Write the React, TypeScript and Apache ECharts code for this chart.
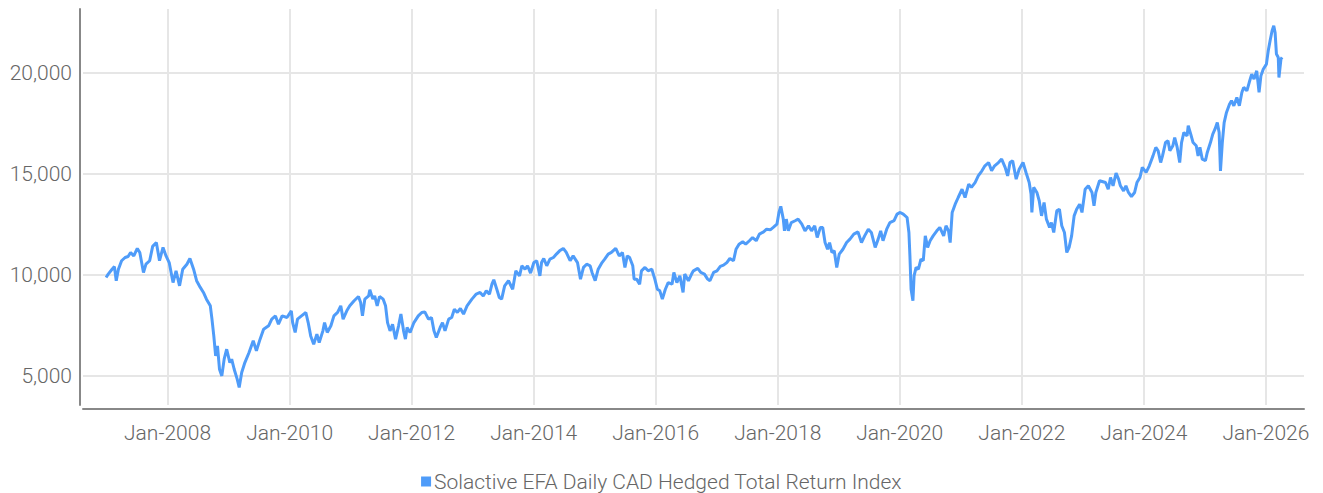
import React, { useEffect, useRef } from "react";
import * as echarts from "echarts";

const SERIES_NAME = "Solactive EFA Daily CAD Hedged Total Return Index";

const dates: string[] = [
  "2006-12-29","2007-01-11","2007-02-03","2007-02-17","2007-02-28","2007-03-13","2007-04-01","2007-04-22","2007-05-10","2007-05-25",
  "2007-06-13","2007-07-04","2007-07-19","2007-08-10","2007-08-25","2007-09-16","2007-10-04","2007-10-26","2007-11-14","2007-12-05",
  "2007-12-23","2008-01-11","2008-02-03","2008-02-21","2008-03-13","2008-04-01","2008-04-26","2008-05-14","2008-06-05","2008-06-23",
  "2008-07-15","2008-08-03","2008-08-21","2008-09-13","2008-09-23","2008-10-04","2008-10-15","2008-10-26","2008-11-07","2008-11-21",
  "2008-12-05","2008-12-20","2009-01-08","2009-01-19","2009-02-03","2009-02-21","2009-03-05","2009-03-20","2009-04-08","2009-05-03",
  "2009-05-28","2009-06-16","2009-07-08","2009-07-29","2009-08-28","2009-09-16","2009-10-08","2009-10-26","2009-11-17","2009-12-16",
  "2010-01-11","2010-01-19","2010-02-03","2010-02-17","2010-03-13","2010-04-08","2010-04-22","2010-05-07","2010-05-25","2010-06-13",
  "2010-06-27","2010-07-19","2010-07-29","2010-08-14","2010-09-05","2010-09-23","2010-10-15","2010-11-03","2010-11-17","2010-12-09",
  "2010-12-27","2011-01-22","2011-02-17","2011-03-02","2011-03-13","2011-03-27","2011-04-19","2011-04-26","2011-05-14","2011-05-25",
  "2011-06-09","2011-06-23","2011-07-15","2011-07-29","2011-08-10","2011-08-25","2011-09-09","2011-09-27","2011-10-15","2011-10-29",
  "2011-11-14","2011-11-25","2011-12-05","2011-12-23","2012-01-15","2012-02-10","2012-03-02","2012-03-20","2012-04-11","2012-04-29",
  "2012-05-14","2012-05-28","2012-06-20","2012-07-04","2012-07-19","2012-08-10","2012-08-28","2012-09-13","2012-10-01","2012-10-19",
  "2012-11-07","2012-11-28","2012-12-27","2013-01-22","2013-02-14","2013-03-05","2013-03-23","2013-04-11","2013-04-26","2013-05-07",
  "2013-05-25","2013-06-09","2013-06-23","2013-07-11","2013-08-03","2013-08-28","2013-09-16","2013-10-08","2013-10-22","2013-11-10",
  "2013-11-25","2013-12-13","2014-01-02","2014-01-19","2014-02-07","2014-02-17","2014-03-02","2014-03-20","2014-04-08","2014-04-29",
  "2014-05-17","2014-06-05","2014-06-27","2014-07-15","2014-08-07","2014-08-25","2014-09-20","2014-10-08","2014-10-26","2014-11-14",
  "2014-12-05","2014-12-16","2015-01-04","2015-01-22","2015-02-14","2015-03-02","2015-03-23","2015-04-11","2015-05-07","2015-05-28",
  "2015-06-16","2015-07-01","2015-07-15","2015-07-29","2015-08-17","2015-08-25","2015-09-09","2015-09-27","2015-10-08","2015-10-29",
  "2015-11-17","2015-12-09","2015-12-27","2016-01-11","2016-01-26","2016-02-10","2016-02-28","2016-03-16","2016-04-08","2016-04-19",
  "2016-05-07","2016-05-25","2016-06-13","2016-06-23","2016-07-15","2016-08-03","2016-08-14","2016-09-09","2016-09-27","2016-10-19",
  "2016-11-07","2016-11-21","2016-12-13","2017-01-02","2017-01-22","2017-02-10","2017-03-02","2017-03-20","2017-04-11","2017-04-26",
  "2017-05-14","2017-06-05","2017-06-23","2017-07-15","2017-08-03","2017-08-25","2017-09-13","2017-10-08","2017-10-26","2017-11-17",
  "2017-12-05","2017-12-27","2018-01-08","2018-01-19","2018-02-03","2018-02-10","2018-02-21","2018-03-05","2018-03-23","2018-04-15",
  "2018-05-03","2018-05-25","2018-06-13","2018-07-04","2018-07-22","2018-08-10","2018-08-25","2018-09-13","2018-09-27","2018-10-11",
  "2018-10-26","2018-11-07","2018-11-21","2018-12-05","2018-12-20","2019-01-04","2019-01-26","2019-02-17","2019-03-09","2019-04-01",
  "2019-04-26","2019-05-17","2019-06-05","2019-06-27","2019-07-15","2019-08-07","2019-08-25","2019-09-09","2019-09-23","2019-10-15",
  "2019-11-03","2019-11-28","2019-12-16","2020-01-04","2020-01-22","2020-02-14","2020-02-25","2020-03-02","2020-03-09","2020-03-20",
  "2020-03-27","2020-04-08","2020-04-22","2020-05-07","2020-05-21","2020-06-02","2020-06-16","2020-07-01","2020-07-19","2020-08-10",
  "2020-08-28","2020-09-20","2020-10-04","2020-10-19","2020-10-29","2020-11-10","2020-11-28","2020-12-16","2021-01-08","2021-01-26",
  "2021-02-17","2021-03-05","2021-03-27","2021-04-15","2021-05-07","2021-05-25","2021-06-16","2021-07-04","2021-07-22","2021-08-14",
  "2021-09-02","2021-09-23","2021-10-08","2021-10-22","2021-11-07","2021-11-28","2021-12-16","2022-01-08","2022-01-26","2022-02-14",
  "2022-02-25","2022-03-02","2022-03-13","2022-04-01","2022-04-15","2022-04-29","2022-05-14","2022-05-28","2022-06-16","2022-06-27",
  "2022-07-11","2022-07-29","2022-08-14","2022-08-28","2022-09-13","2022-09-27","2022-10-11","2022-10-26","2022-11-10","2022-11-25",
  "2022-12-13","2022-12-27","2023-01-15","2023-02-03","2023-02-25","2023-03-09","2023-03-20","2023-04-11","2023-05-17","2023-06-02",
  "2023-06-16","2023-07-01","2023-07-19","2023-08-03","2023-08-14","2023-09-02","2023-09-16","2023-10-01","2023-10-19","2023-11-07",
  "2023-11-21","2023-12-09","2023-12-23","2024-01-15","2024-02-03","2024-02-25","2024-03-13","2024-03-27","2024-04-11","2024-04-22",
  "2024-05-10","2024-05-25","2024-06-05","2024-06-23","2024-07-04","2024-07-19","2024-08-03","2024-08-14","2024-08-28","2024-09-16",
  "2024-09-23","2024-10-08","2024-10-22","2024-11-10","2024-11-21","2024-12-02","2024-12-16","2025-01-04","2025-01-15","2025-02-03",
  "2025-02-17","2025-03-02","2025-03-16","2025-03-27","2025-04-04","2025-04-15","2025-04-26","2025-05-10","2025-05-28","2025-06-09",
  "2025-06-23","2025-07-11","2025-07-26","2025-08-10","2025-08-21","2025-09-09","2025-09-23","2025-10-08","2025-10-22","2025-11-07",
  "2025-11-21","2025-12-02","2025-12-16","2026-01-04","2026-01-15","2026-01-26","2026-02-07","2026-02-17","2026-02-25","2026-03-05",
  "2026-03-16","2026-03-20","2026-04-01","2026-04-08"
];

const values: number[] = [
  9860,10025,10270,10400,9700,10270,10690,10850,10900,11100,
  10930,11300,11100,10110,10520,10690,11400,11590,10690,11350,
  10930,10600,9610,10190,9450,10270,10520,10800,10270,9700,
  9370,9120,8790,8460,7800,6970,5980,6480,5320,4990,
  5820,6310,5650,5820,5320,4830,4420,5160,5650,6150,
  6730,6230,6810,7300,7470,7800,7960,7550,7960,7880,
  8210,7630,7140,7800,7960,8130,7630,6970,6560,7060,
  6640,7220,7630,7140,7470,7960,8130,8460,7800,8210,
  8460,8710,8920,8620,7960,8790,8950,9250,8790,8950,
  8460,8920,8790,8460,7630,7220,7550,6810,7470,8050,
  7220,6810,7390,7140,7630,7960,8130,8160,7800,7880,
  7220,6890,7390,7630,7220,7800,7880,8290,8130,8330,
  8050,8460,8790,9040,9120,8950,9200,9040,9530,9750,
  9280,8870,8790,9450,9700,9280,10190,9940,10440,10270,
  10440,10080,10600,10690,9940,10600,10800,10440,10770,10850,
  11020,11180,11300,11100,10690,10930,10600,9780,10360,10520,
  10440,10110,9700,10270,10600,10770,11020,11100,11300,10930,
  11100,10360,10930,10850,10440,9780,9780,9530,10190,10360,
  10190,10270,9780,9280,9200,8790,9280,9610,9530,10110,
  9610,9940,9120,10030,9700,10030,10190,10310,10110,10030,
  9780,9700,10110,10190,10410,10470,10600,10800,10690,11260,
  11510,11630,11510,11680,11840,11680,12010,12120,12250,12220,
  12340,12500,13080,13380,12750,12170,12750,12170,12580,12670,
  12750,12500,12170,12420,12170,12420,11840,12340,12340,11590,
  11260,11590,11100,11180,10360,11020,11260,11590,11760,12010,
  12120,11590,11920,12250,12090,11350,11760,12170,11680,12250,
  12580,12670,13000,13080,13000,12830,12090,10930,9280,8710,
  9940,10360,10270,10770,10690,11920,11350,11680,11920,12170,
  12340,11920,12420,12170,11590,13080,13490,13820,14230,13820,
  14480,14320,14560,14890,15140,15390,15550,15140,15390,15550,
  15720,15310,14890,15550,15640,14730,15220,15550,15060,14560,
  13990,13080,14320,14070,13660,12910,13570,12750,12340,12580,
  12090,13160,13240,12420,12090,11100,11350,11920,12910,13240,
  13490,13080,14230,14400,14070,13410,14070,14650,14560,14230,
  14810,14400,15030,14730,14400,14150,14400,14070,13870,14070,
  14560,14810,15310,15060,15390,15880,16300,16130,15550,15880,
  16540,16630,16130,16380,16790,16300,15550,16540,17040,16870,
  17370,16960,16540,16380,15880,16300,15720,15640,16050,16540,
  16960,17200,17530,17040,15140,16540,17530,18030,18440,18610,
  18360,18770,18360,19020,19270,19100,19510,19930,19680,20090,
  19020,19840,20170,20420,21080,21580,22070,22320,21990,20920,
  20750,19760,20670,20750
];

const tickYears: number[] = [2008, 2010, 2012, 2014, 2016, 2018, 2020, 2022, 2024, 2026];

const FONT = "Roboto";
const TEXT_COLOR = "#666666";
const FONT_SIZE = 21;

function toTime(s: string): number {
  const [y, m, d] = s.split("-").map(Number);
  return new Date(y, m - 1, d).getTime();
}

export default function App() {
  const ref = useRef<HTMLDivElement>(null);

  useEffect(() => {
    if (!ref.current) return;
    const chart = echarts.init(ref.current, undefined, { renderer: "svg" });
    const tickValues = tickYears.map((y) => new Date(y, 0, 1).getTime());
    const seriesData = dates.map((d, i) => [toTime(d), values[i]]);

    chart.setOption({
      animation: false,
      backgroundColor: "#ffffff",
      textStyle: { fontFamily: FONT },
      grid: { left: 83, right: 19, top: 9, bottom: 88, containLabel: false },
      legend: {
        data: [SERIES_NAME],
        top: 466,
        left: "center",
        icon: "rect",
        itemWidth: 10,
        itemHeight: 10,
        itemGap: 10,
        textStyle: { fontFamily: FONT, fontSize: FONT_SIZE, fontWeight: 300, color: TEXT_COLOR, padding: [0, 0, 3, -2] },
      },
      xAxis: {
        type: "value",
        min: new Date(2006, 7, 13).getTime(),
        max: new Date(2026, 7, 17).getTime(),
        offset: 4,
        axisLine: { show: true, onZero: false, lineStyle: { color: "#888888", width: 2 } },
        axisTick: { show: false, customValues: tickValues },
        axisLabel: {
          customValues: tickValues,
          color: TEXT_COLOR,
          fontFamily: FONT,
          fontSize: FONT_SIZE,
          fontWeight: 300,
          margin: 13,
          formatter: (v: number) => "Jan-" + new Date(v).getFullYear(),
        },
        splitLine: { show: true, lineStyle: { color: "#e6e6e6", width: 2 } },
      },
      yAxis: {
        type: "value",
        min: 3550,
        max: 23150,
        splitNumber: 4,
        offset: 3,
        axisLine: { show: true, lineStyle: { color: "#888888", width: 2 } },
        axisTick: { show: false },
        axisLabel: {
          color: TEXT_COLOR,
          fontFamily: FONT,
          fontSize: FONT_SIZE,
          fontWeight: 300,
          margin: 8,
          showMinLabel: false,
          showMaxLabel: false,
          formatter: (v: number) => v.toLocaleString("en-US"),
        },
        splitLine: { show: true, showMinLine: false, showMaxLine: false, lineStyle: { color: "#e6e6e6", width: 2 } },
      },
      series: [
        {
          name: SERIES_NAME,
          type: "line",
          data: seriesData,
          showSymbol: false,
          symbol: "none",
          color: "#4f9cf9",
          lineStyle: { color: "#4f9cf9", width: 3 },
        },
      ],
    });
    return () => chart.dispose();
  }, []);

  return (
    <div
      ref={ref}
      style={{ position: "fixed", left: 0, top: 0, width: 1323, height: 493, background: "#fff" }}
    />
  );
}
